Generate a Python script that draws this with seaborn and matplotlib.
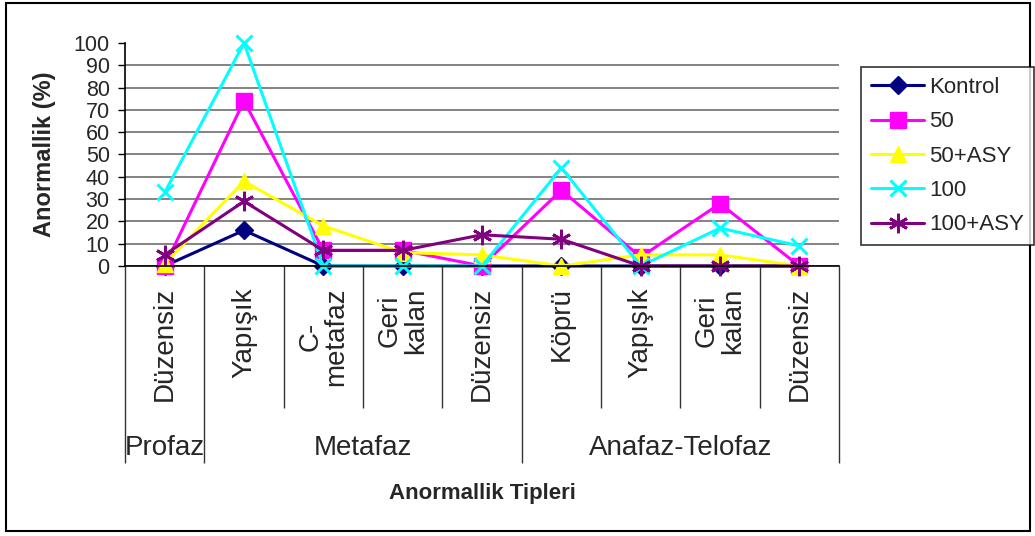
import matplotlib
matplotlib.use("Agg")
import matplotlib.pyplot as plt
import seaborn as sns
from matplotlib.patches import Rectangle

# data
categories = ['Düzensiz', 'Yapışık', 'C-\nmetafaz', 'Geri\nkalan', 'Düzensiz',
              'Köprü', 'Yapışık', 'Geri\nkalan', 'Düzensiz']
groups = ['Profaz', 'Metafaz', 'Anafaz-Telofaz']
group_sizes = [1, 4, 4]

series_names = ['Kontrol', '50', '50+ASY', '100', '100+ASY']
kontrol = [0, 16, 0, 0, 0, 0, 0, 0, 0]
doz50 = [0, 74, 7, 7, 0, 34, 4, 28, 0]
doz50_asy = [1, 38, 18, 6, 5, 0, 5, 5, 0]
doz100 = [33, 100, 0, 0, 0, 44, 0, 17, 9]
doz100_asy = [5, 29, 7, 7, 14, 12, 0, 0, 0]
yticks = list(range(0, 101, 10))

sns.set_style('white')
plt.rcParams['font.family'] = ['Liberation Sans', 'DejaVu Sans']

fig = plt.figure(figsize=(10.35, 5.36), dpi=100)
ax = fig.add_axes([125 / 1035, 1 - 266 / 536, 714 / 1035, 223 / 536])

styles = [
    ('#000080', 'D', 9, 1.0),
    ('#FF00FF', 's', 11, 1.0),
    ('#FFFF00', '^', 12, 1.0),
    ('#00FFFF', 'x', 12, 2.2),
    ('#800080', (6, 2, 0), 14, 2.0),
]
all_values = [kontrol, doz50, doz50_asy, doz100, doz100_asy]
positions = list(range(len(categories)))

for name, vals, (col, mk, ms, mew) in zip(series_names, all_values, styles):
    sns.lineplot(x=positions, y=vals, ax=ax, color=col, marker=mk, markersize=ms,
                 markeredgecolor=col, markeredgewidth=mew, linewidth=2.2,
                 label=name, clip_on=False, legend=False)

ax.set_xlim(-0.5, len(categories) - 0.5)
ax.set_ylim(0, 100)
ax.set_yticks(yticks)
ax.set_yticklabels([str(t) for t in yticks], fontsize=15.5)
ax.tick_params(axis='y', direction='out', length=5, width=1, color='black', pad=6, left=True)
ax.set_xticks([])
ax.yaxis.grid(True, color='#7a7a7a', linewidth=1.3)
ax.get_ygridlines()[-1].set_visible(False)
ax.set_axisbelow(True)
for s in ['top', 'right']:
    ax.spines[s].set_visible(False)
for s in ['left', 'bottom']:
    ax.spines[s].set_color('black')
    ax.spines[s].set_linewidth(1.2)

# multi-level category axis
trans = ax.get_xaxis_transform()
bounds = [i - 0.5 for i in range(len(categories) + 1)]
group_edges = [-0.5]
for n in group_sizes:
    group_edges.append(group_edges[-1] + n)
inner = [b for b in bounds if b not in group_edges]
ax.vlines(inner, -0.637, 0, transform=trans, colors='#333333', linewidth=1, clip_on=False)
ax.vlines(group_edges, -0.883, 0, transform=trans, colors='#333333', linewidth=1, clip_on=False)

for p, lab in zip(positions, categories):
    ax.text(p, -0.095, lab, transform=trans, rotation=90, ha='center', va='top',
            multialignment='center', fontsize=20, linespacing=1.0)

for g, a, b in zip(groups, group_edges[:-1], group_edges[1:]):
    ax.text((a + b) / 2, -0.816, g, transform=trans, ha='center', va='center', fontsize=20)

ax.set_xlabel('Anormallik Tipleri', fontsize=16, fontweight='bold', labelpad=0)
ax.xaxis.set_label_coords(0.5, -0.975)
ax.set_ylabel('Anormallik (%)', fontsize=17, fontweight='bold')
ax.yaxis.set_label_coords(-0.097, 0.5)

handles, labels = ax.get_legend_handles_labels()
leg = fig.legend(handles, labels, loc='upper left', bbox_to_anchor=(861 / 1035, 1 - 67 / 536),
                 fontsize=16, frameon=True, fancybox=False, edgecolor='black',
                 handlelength=2.4, labelspacing=0.6, borderpad=0.45, handletextpad=0.2,
                 borderaxespad=0)
leg.get_frame().set_linewidth(1.2)

fig.patches.append(Rectangle((6 / 1035, 5 / 536), 1024 / 1035, 528 / 536,
                             transform=fig.transFigure, fill=False,
                             edgecolor='black', linewidth=1.5))

fig.savefig('out.png', dpi=100)
